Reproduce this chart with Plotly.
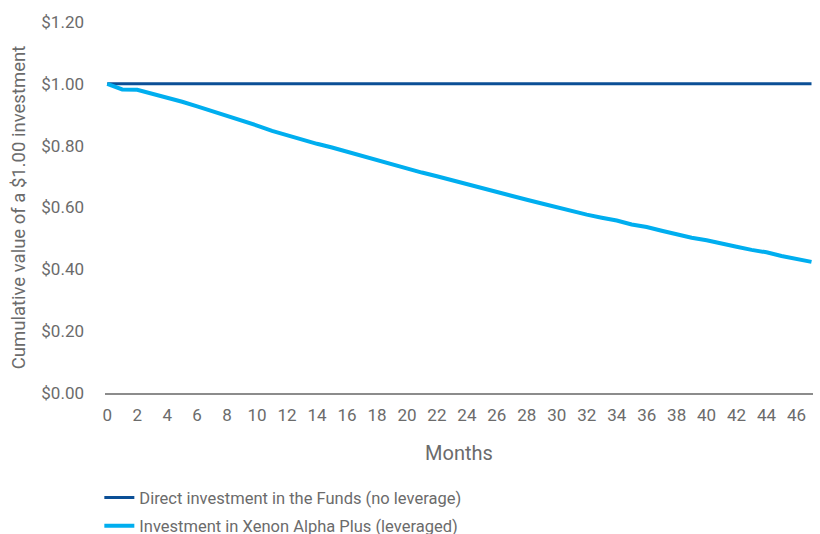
import plotly.graph_objects as go

# Months since investment
months = list(range(0, 48))

# Cumulative value of $1.00 invested directly in the funds (no leverage)
direct_values = [1.00] * 48

# Cumulative value of $1.00 invested in Xenon Alpha Plus (leveraged)
leveraged_values = [
    1.000, 0.982, 0.981, 0.968, 0.957, 0.942, 0.927, 0.912, 0.896, 0.881,
    0.865, 0.848, 0.833, 0.821, 0.806, 0.794, 0.780, 0.767, 0.754, 0.741,
    0.727, 0.713, 0.701, 0.688, 0.674, 0.662, 0.649, 0.637, 0.625, 0.613,
    0.600, 0.587, 0.577, 0.567, 0.558, 0.545, 0.537, 0.525, 0.512, 0.502,
    0.494, 0.482, 0.473, 0.463, 0.455, 0.443, 0.435, 0.424,
]

x_tick_values = list(range(0, 47, 2))
y_tick_values = [0.0, 0.2, 0.4, 0.6, 0.8, 1.0, 1.2]
y_tick_labels = ["$0.00", "$0.20", "$0.40", "$0.60", "$0.80", "$1.00", "$1.20"]

series_names = [
    "Direct investment in the Funds (no leverage)",
    "Investment in Xenon Alpha Plus (leveraged)",
]

DARK_BLUE = "#0B4F96"
LIGHT_BLUE = "#00AEEF"
TEXT_GREY = "#6B6B6B"
FONT = "Roboto, sans-serif"

fig = go.Figure()
fig.add_trace(go.Scatter(
    x=months, y=direct_values, mode="lines", name=series_names[0],
    legendgroup="a", line=dict(color=DARK_BLUE, width=3),
))
fig.add_trace(go.Scatter(
    x=months, y=leveraged_values, mode="lines", name=series_names[1],
    legendgroup="b", line=dict(color=LIGHT_BLUE, width=4),
))

fig.update_layout(
    width=820, height=534,
    margin=dict(l=105, r=7, t=22, b=141, autoexpand=False),
    paper_bgcolor="white", plot_bgcolor="white",
    font=dict(family=FONT, size=17, color=TEXT_GREY),
    showlegend=True,
    legend=dict(
        orientation="v", x=-0.008, xanchor="left", y=-0.235, yanchor="top",
        font=dict(size=16.5, color=TEXT_GREY), tracegroupgap=4,
        traceorder="grouped", bgcolor="rgba(0,0,0,0)",
    ),
)

fig.update_xaxes(
    range=[-0.15, 47.1],
    tickmode="array", tickvals=x_tick_values,
    showgrid=False, zeroline=False,
    showline=True, linecolor="#8C8C8C", linewidth=2,
    ticks="", ticklabelstandoff=6,
    tickfont=dict(size=17, color=TEXT_GREY),
    title=dict(text="Months", font=dict(size=20, color=TEXT_GREY), standoff=22),
)

fig.update_yaxes(
    range=[0, 1.2],
    tickmode="array", tickvals=y_tick_values, ticktext=y_tick_labels,
    showgrid=False, zeroline=False, showline=False,
    ticks="", ticklabelstandoff=20,
    tickfont=dict(size=17, color=TEXT_GREY),
    title=dict(text="Cumulative value of a $1.00 investment",
               font=dict(size=18.5, color=TEXT_GREY), standoff=10),
)

fig.write_html("out.html")
